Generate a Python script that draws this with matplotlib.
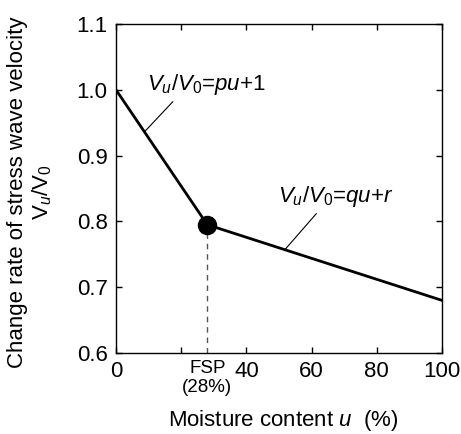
import numpy as np
import matplotlib
matplotlib.use("Agg")
import matplotlib.pyplot as plt
import matplotlib.transforms as mtransforms

plt.rcParams['font.family'] = ['Liberation Sans', 'DejaVu Sans']
plt.rcParams['mathtext.fontset'] = 'custom'
plt.rcParams['mathtext.rm'] = 'Liberation Sans'
plt.rcParams['mathtext.it'] = 'Liberation Sans:italic'
plt.rcParams['mathtext.bf'] = 'Liberation Sans:bold'

# piecewise relation: moisture content u (%) vs Vu/V0
moisture = [0, 28, 100]
ratio = [1.0, 0.795, 0.68]
fsp_u = 28
fsp_ratio = 0.795

xticks = [0, 20, 40, 60, 80, 100]
xticklabels = ['0', '', '40', '60', '80', '100']
yticks = [0.6, 0.7, 0.8, 0.9, 1.0, 1.1]

fig = plt.figure(figsize=(4.61, 4.34), dpi=100)
ax = fig.add_axes([0.2516, 0.1866, 0.7072, 0.7581])

ax.plot(moisture, ratio, color='black', lw=2.0, zorder=3)
ax.plot([fsp_u, fsp_u], [0.6, fsp_ratio], color='#555555', lw=1.0,
        dashes=(4, 3.5), zorder=2)
ax.plot([fsp_u], [fsp_ratio], 'o', color='black', ms=13, zorder=4)

ax.set_xlim(0, 100)
ax.set_ylim(0.6, 1.1)
ax.set_xticks(xticks)
ax.set_xticklabels(xticklabels)
ax.set_yticks(yticks)
ax.set_yticklabels(['%.1f' % v for v in yticks])
ax.tick_params(direction='in', length=4, width=1, top=True, right=True,
               labelsize=16, pad=6)
for s in ax.spines.values():
    s.set_linewidth(1.0)

# FSP label under the dashed line
trans = mtransforms.blended_transform_factory(ax.transData, ax.transAxes)
ax.text(fsp_u, -0.022, 'FSP\n(28%)', transform=trans, ha='center', va='top',
        fontsize=13.5, linespacing=1.1)

ax.annotate(r'$V_u/V_0$=$pu$+1', xy=(8.9, 0.937), xytext=(9.4, 1.0),
            fontsize=16, ha='left', va='baseline',
            arrowprops=dict(arrowstyle='-', lw=0.8, color='black',
                            shrinkA=2, shrinkB=0,
                            relpos=(0.26, 0)))
ax.annotate(r'$V_u/V_0$=$qu$+$r$', xy=(51.8, 0.757), xytext=(49.7, 0.83),
            fontsize=16, ha='left', va='baseline',
            arrowprops=dict(arrowstyle='-', lw=0.8, color='black',
                            shrinkA=2, shrinkB=0,
                            relpos=(0.37, 0)))

ax.set_xlabel(r'Moisture content $u$  (%)', fontsize=16)
ax.xaxis.set_label_coords(0.514, -0.167)
ax.set_ylabel('Change rate of stress wave velocity\n' + r'V$_u$/V$_0$',
              fontsize=16, linespacing=1.12)
ax.yaxis.set_label_coords(-0.19, 0.49)

fig.savefig('out.png', dpi=100)
